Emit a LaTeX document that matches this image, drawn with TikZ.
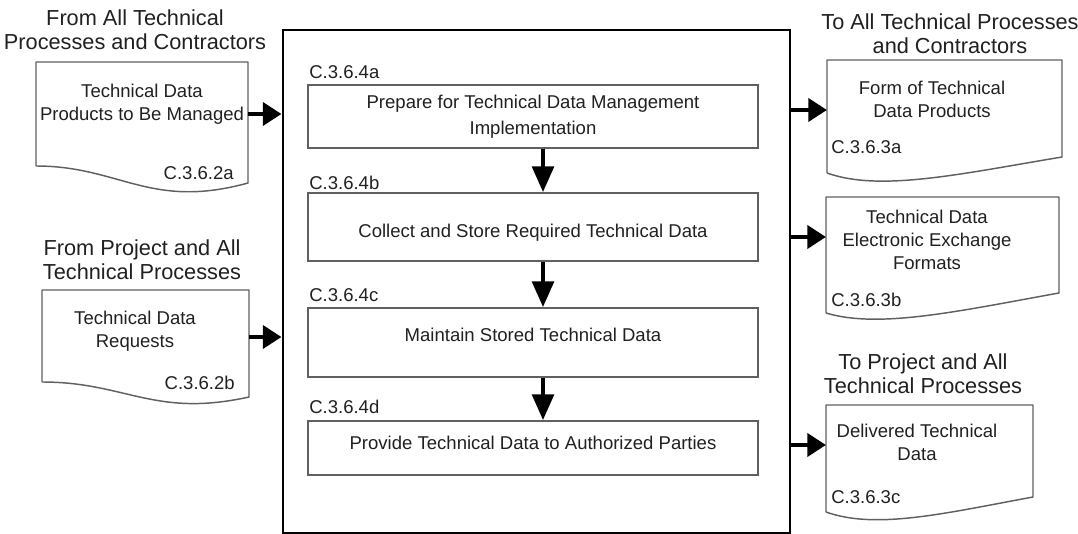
\documentclass[tikz,border=0pt]{standalone}
\usepackage{fontspec}
\setmainfont{Liberation Sans}
\usetikzlibrary{arrows.meta,positioning,fit}
\definecolor{lineGray}{HTML}{606060}
\definecolor{textGray}{HTML}{202020}
\tikzset{
  bodyText/.style={font=\fontsize{13.9}{17.25}\selectfont, text=textGray, align=center, inner sep=0pt},
  titleText/.style={font=\fontsize{16.3}{18}\selectfont, text=textGray, align=center, inner sep=0pt},
  codeText/.style={font=\fontsize{13.9}{17.25}\selectfont, text=textGray, inner sep=0pt},
  stepBox/.style={rectangle, draw=lineGray, line width=1.1pt, inner sep=0pt,
              minimum width=337.5pt, font=\fontsize{13.9}{19.5}\selectfont,
              text=textGray, align=center},
  mainBox/.style={rectangle, draw=black, line width=2.2pt, inner sep=0pt},
  docLine/.style={draw=lineGray, line width=1.1pt, line join=round},
  sideArrow/.style={-{Triangle[length=14pt, width=17pt]}, line width=3.7pt},
  downArrow/.style={-{Triangle[length=19.5pt, width=16pt]}, line width=3.7pt}
}

\begin{document}
\begin{tikzpicture}[x=0.75pt, y=-0.75pt]
\useasboundingbox (0,0) rectangle (1078,534);

% Main box
\node[mainBox, fit={(283,30) (790,533)}] (main) {};

% Process boxes
\node[codeText, anchor=west] (codeA) at (309,72) {C.3.6.4a};
\node[stepBox, minimum height=47.25pt] (prepA) at (533,116.5) {Prepare for Technical Data Management\\Implementation};
\node[codeText, anchor=west] (codeB) at (309,183) {C.3.6.4b};
\node[stepBox, minimum height=51pt] (prepB) at (533,227) {};
\node[bodyText] (prepBText) at (533,233) {Collect and Store Required Technical Data};
\node[codeText, anchor=west] (codeC) at (309,295) {C.3.6.4c};
\node[stepBox, minimum height=51.75pt] (prepC) at (533,342.5) {};
\node[bodyText] (prepCText) at (533,335) {Maintain Stored Technical Data};
\node[codeText, anchor=west] (codeD) at (309,407) {C.3.6.4d};
\node[stepBox, minimum height=40.5pt] (prepD) at (533,448) {};
\node[bodyText] (prepDText) at (533,443) {Provide Technical Data to Authorized Parties};

% Down arrows
\coordinate (flowX) at (543,0);
\draw[downArrow] (prepA.south -| flowX) -- (prepB.north -| flowX);
\draw[downArrow] (prepB.south -| flowX) -- (prepC.north -| flowX);
\draw[downArrow] (prepC.south -| flowX) -- (prepD.north -| flowX);

% Input documents
\node[titleText] (inATitle) at (135,30) {From All Technical\\Processes and Contractors};
\draw[docLine] (36,166) -- (36,62) -- (248,62) -- (248,183)
  .. controls (150,210) and (120,166) .. (36,166);
\node[bodyText] (inAText) at (142,104) {Technical Data\\Products to Be Managed};
\node[codeText, anchor=east] (inACode) at (234,173) {C.3.6.2a};
\coordinate (inA) at (248,114);

\node[titleText] (inBTitle) at (142,259.5) {From Project and All\\Technical Processes};
\draw[docLine] (42,382) -- (42,290) -- (249,290) -- (249,397)
  .. controls (154,418) and (126,382) .. (42,382);
\node[bodyText] (inBText) at (135,331) {Technical Data\\Requests};
\node[codeText, anchor=east] (inBCode) at (235,383) {C.3.6.2b};
\coordinate (inB) at (249,337);

% Output documents
\node[titleText] (outATitle) at (950,34) {To All Technical Processes\\and Contractors};
\draw[docLine] (827,173) -- (827,60) -- (1062,60) -- (1062,157)
  .. controls (960,174) and (880,192) .. (827,173);
\node[bodyText] (outAText) at (932,99.5) {Form of Technical\\Data Products};
\node[codeText, anchor=west] (outACode) at (831,147) {C.3.6.3a};
\coordinate (outA) at (827,110);

\draw[docLine] (826,313) -- (826,197) -- (1059,197) -- (1059,293)
  .. controls (959,311) and (879,329) .. (826,313);
\node[bodyText] (outBText) at (927,240) {Technical Data\\Electronic Exchange\\Formats};
\node[codeText, anchor=west] (outBCode) at (831,300) {C.3.6.3b};
\coordinate (outB) at (826,237);

\node[titleText] (outCTitle) at (923,374) {To Project and All\\Technical Processes};
\draw[docLine] (826,512) -- (826,405) -- (1033,405) -- (1033,497)
  .. controls (946,513) and (876,530) .. (826,512);
\node[bodyText] (outCText) at (917,442) {Delivered Technical\\Data};
\node[codeText, anchor=west] (outCCode) at (831,497) {C.3.6.3c};
\coordinate (outC) at (826,445);

% Side arrows
\draw[sideArrow] (inA) -- (inA -| main.west);
\draw[sideArrow] (inB) -- (inB -| main.west);
\draw[sideArrow] (outA -| main.east) -- (outA);
\draw[sideArrow] (outB -| main.east) -- (outB);
\draw[sideArrow] (outC -| main.east) -- (outC);

\end{tikzpicture}
\end{document}
